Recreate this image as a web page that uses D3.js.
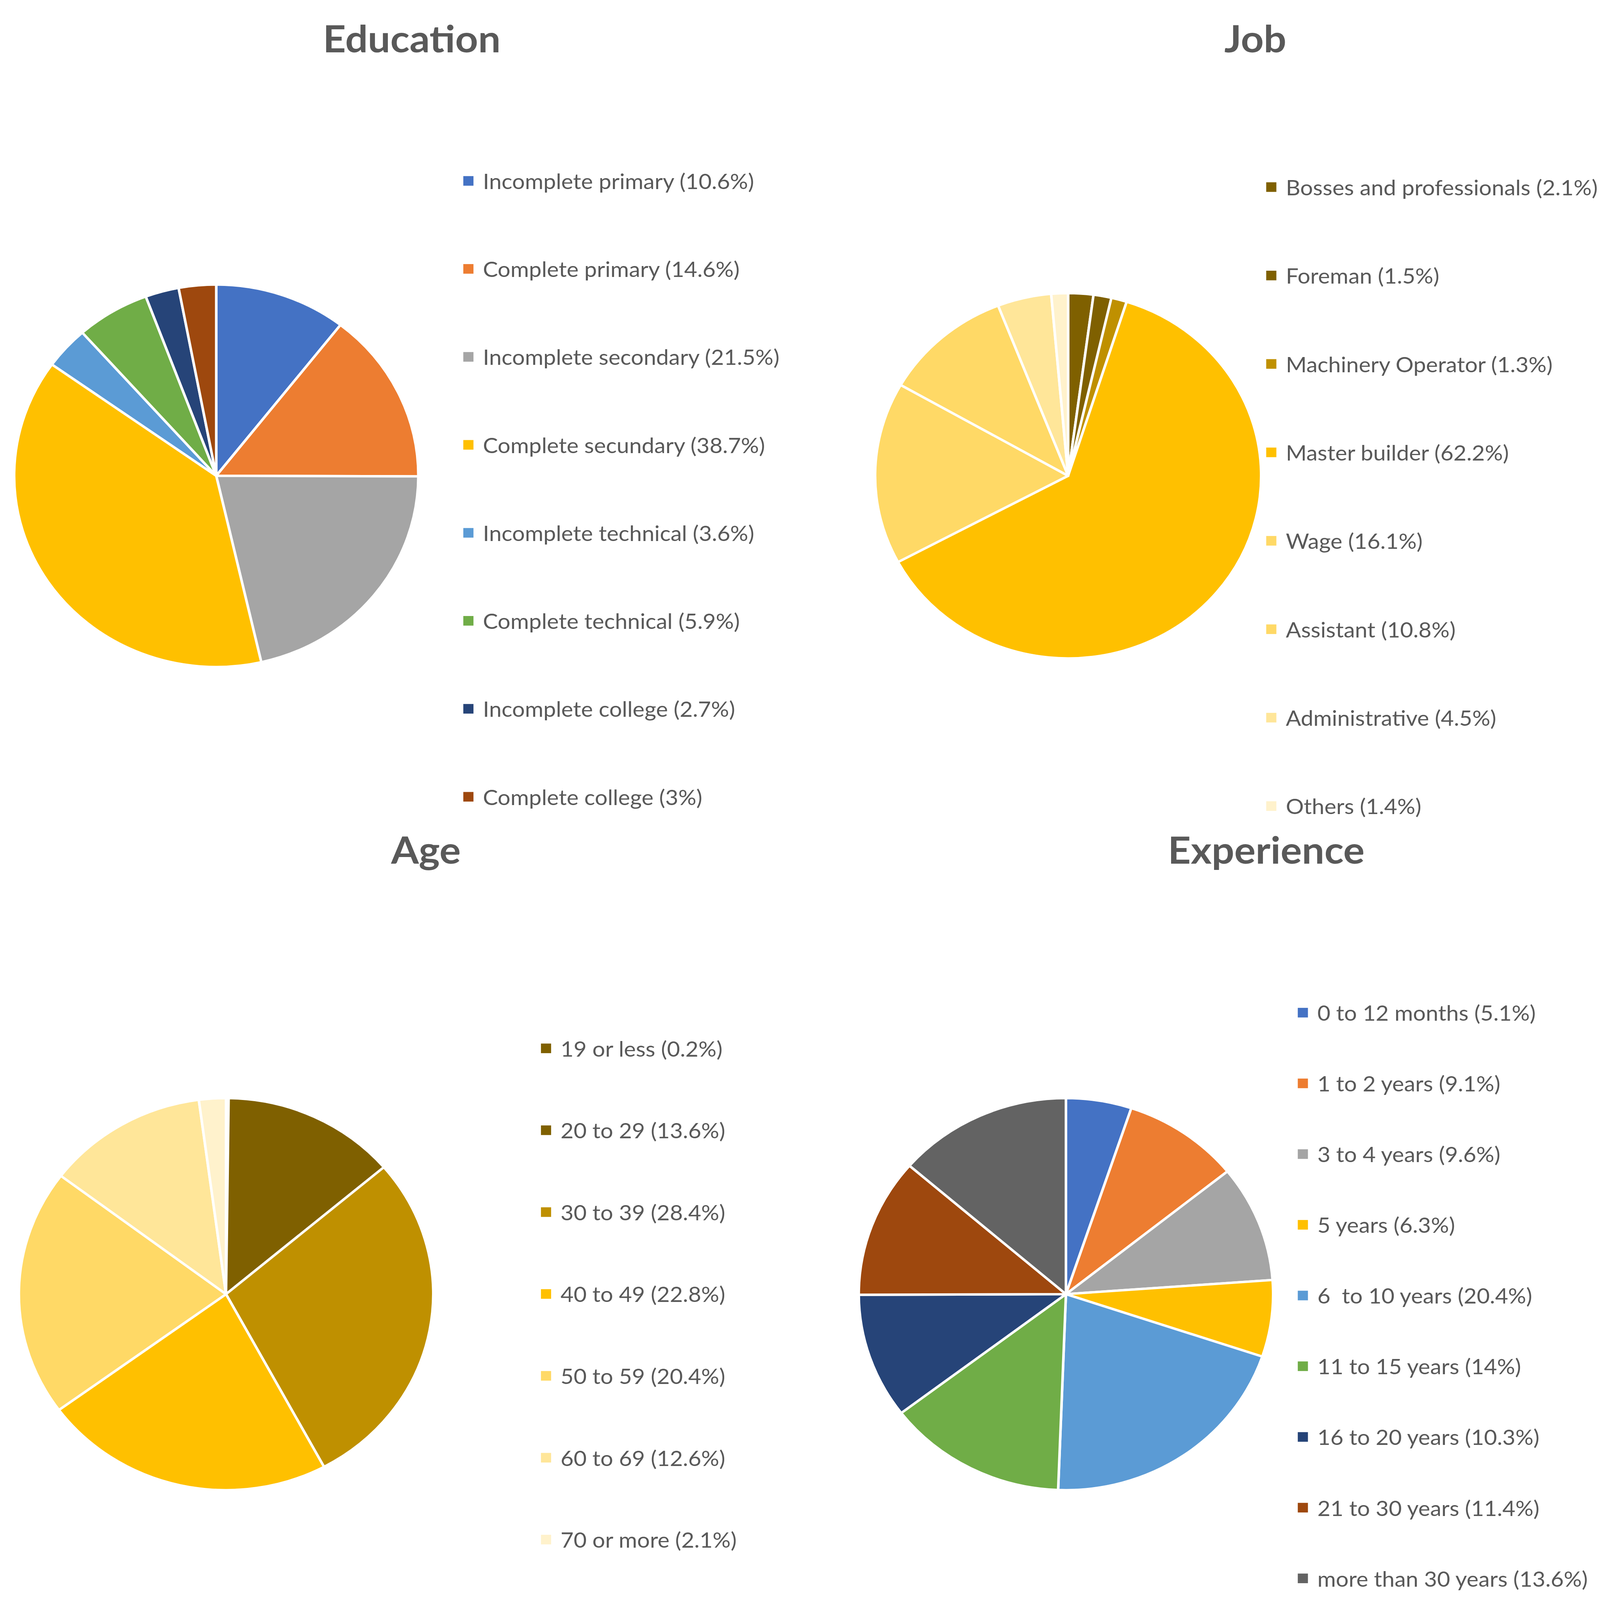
<!DOCTYPE html>
<html>
<head>
<meta charset="utf-8">
<script src="https://cdn.jsdelivr.net/npm/d3@7"></script>
<style>
  html, body { margin: 0; padding: 0; background: #fff; overflow: hidden; }
  #chart { width: 100vw; height: 100vh; }
  svg { display: block; width: 100%; height: 100%; }
  text { white-space: pre; }
</style>
</head>
<body>
<div id="chart"></div>
<script>
const eduLabels = ["Incomplete primary", "Complete primary", "Incomplete secondary", "Complete secundary",
  "Incomplete technical", "Complete technical", "Incomplete college", "Complete college"]
const eduValues = [10.6, 14.6, 21.5, 38.7, 3.6, 5.9, 2.7, 3]
const eduColors = ["#4472C4", "#ED7D31", "#A5A5A5", "#FFC000", "#5B9BD5", "#70AD47", "#264478", "#9E480E"]

const jobLabels = ["Bosses and professionals", "Foreman", "Machinery Operator", "Master builder",
  "Wage", "Assistant", "Administrative", "Others"]
const jobValues = [2.1, 1.5, 1.3, 62.2, 16.1, 10.8, 4.5, 1.4]
const jobColors = ["#7F6000", "#7F6000", "#BF9000", "#FFC000", "#FFD966", "#FFD966", "#FFE699", "#FFF2CC"]

const ageLabels = ["19 or less", "20 to 29", "30 to 39", "40 to 49", "50 to 59", "60 to 69", "70 or more"]
const ageValues = [0.2, 13.6, 28.4, 22.8, 20.4, 12.6, 2.1]
const ageColors = ["#7F6000", "#7F6000", "#BF9000", "#FFC000", "#FFD966", "#FFE699", "#FFF2CC"]

const expLabels = ["0 to 12 months", "1 to 2 years", "3 to 4 years", "5 years", "6  to 10 years",
  "11 to 15 years", "16 to 20 years", "21 to 30 years", "more than 30 years"]
const expValues = [5.1, 9.1, 9.6, 6.3, 20.4, 14, 10.3, 11.4, 13.6]
const expColors = ["#4472C4", "#ED7D31", "#A5A5A5", "#FFC000", "#5B9BD5", "#70AD47", "#264478", "#9E480E", "#636363"]

const W = 4410
const H = 4661
const FONT = "Lato, 'Open Sans', sans-serif"
const TEXT_COLOR = "#595959"

// layout of the four panels (pixel positions in the page)
const panels = [
  {title: "Education", labels: eduLabels, values: eduValues, colors: eduColors,
    cx: 596, cy: 1386, r: 557, titleX: 1135, titleY: 110,
    legX: 1277, legY: 527, legStep: 256.3},
  {title: "Job", labels: jobLabels, values: jobValues, colors: jobColors,
    cx: 2944, cy: 1386, r: 532, titleX: 3460, titleY: 110,
    legX: 3490, legY: 545, legStep: 257.6},
  {title: "Age", labels: ageLabels, values: ageValues, colors: ageColors,
    cx: 623, cy: 3770, r: 571, titleX: 1174, titleY: 2473,
    legX: 1491, legY: 3054, legStep: 238.5},
  {title: "Experience", labels: expLabels, values: expValues, colors: expColors,
    cx: 2938, cy: 3770, r: 571, titleX: 3490, titleY: 2473,
    legX: 3577, legY: 2950, legStep: 206},
]

// the drawing always fills the window, whatever size it is photographed at
const svg = d3.select("#chart").append("svg")
  .attr("viewBox", `0 0 ${W} ${H}`)
  .attr("preserveAspectRatio", "none")

svg.append("rect").attr("width", W).attr("height", H).attr("fill", "#fff")

const pie = d3.pie().sort(null).value((d) => d.value)

for (const p of panels) {
  const rows = p.labels.map((label, i) => ({label, value: p.values[i], color: p.colors[i]}))
  const arc = d3.arc().innerRadius(0).outerRadius(p.r)

  const g = svg.append("g")

  g.append("text")
    .attr("x", p.titleX)
    .attr("y", p.titleY)
    .attr("text-anchor", "middle")
    .attr("dominant-baseline", "central")
    .attr("font-family", FONT)
    .attr("font-weight", 700)
    .attr("font-size", 110)
    .attr("fill", TEXT_COLOR)
    .text(p.title)

  g.append("g")
    .attr("transform", `translate(${p.cx},${p.cy})`)
    .selectAll("path")
    .data(pie(rows))
    .join("path")
    .attr("d", arc)
    .attr("fill", (d) => d.data.color)
    .attr("stroke", "#fff")
    .attr("stroke-width", 7)
    .attr("stroke-linejoin", "round")

  const leg = g.append("g")
    .selectAll("g")
    .data(rows)
    .join("g")
    .attr("transform", (d, i) => `translate(${p.legX},${p.legY + i * p.legStep})`)

  leg.append("rect")
    .attr("x", 0)
    .attr("y", -14)
    .attr("width", 28)
    .attr("height", 28)
    .attr("fill", (d) => d.color)

  leg.append("text")
    .attr("x", 54)
    .attr("y", 0)
    .attr("dominant-baseline", "central")
    .attr("font-family", FONT)
    .attr("font-size", 62)
    .attr("fill", TEXT_COLOR)
    .text((d) => `${d.label} (${d.value}%)`)
}
</script>
</body>
</html>
